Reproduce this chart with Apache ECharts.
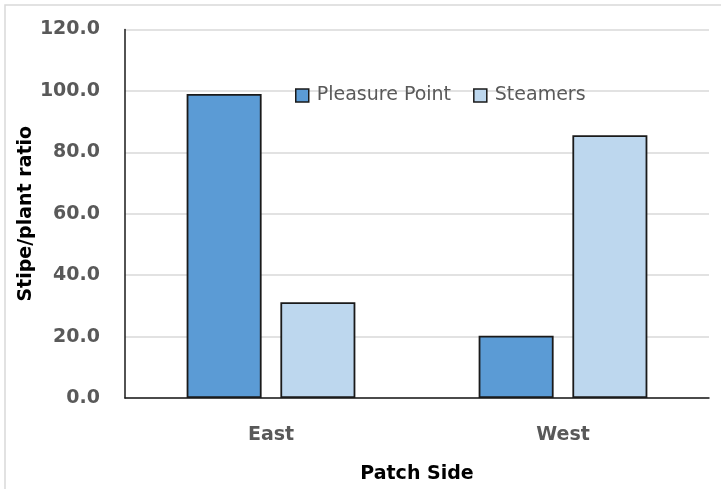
<!DOCTYPE html>
<html>
<head>
<meta charset="utf-8">
<script src="https://cdn.jsdelivr.net/npm/echarts@6/dist/echarts.min.js"></script>
<style>
  html, body { margin: 0; padding: 0; background: #fff; }
  #chart { width: 721px; height: 489px; }
</style>
</head>
<body>
<div id="chart"></div>
<script>
// Stipe-to-plant ratio by patch side at two sites
const categories = ['East', 'West'];
const pleasurePoint = [99.0, 20.3];
const steamers = [31.2, 85.6];
const yTicks = { min: 0, max: 120, interval: 20 };

const chart = echarts.init(document.getElementById('chart'), null, { renderer: 'canvas' });

const labelFont = { fontFamily: 'DejaVu Sans', fontWeight: 'bold', fontSize: 19, color: '#595959' };
const titleFont = { fontFamily: 'DejaVu Sans', fontWeight: 'bold', fontSize: 19, color: '#000' };

chart.setOption({
  backgroundColor: '#fff',
  animation: false,
  graphic: [{
    type: 'rect',
    shape: { x: 5, y: 5, width: 800, height: 600 },
    style: { fill: 'none', stroke: '#d9d9d9', lineWidth: 1.5 },
    silent: true
  }],
  grid: { left: 125, right: 12, top: 29.5, bottom: 91 },
  legend: {
    left: 290, top: 81,
    icon: 'rect',
    itemWidth: 13, itemHeight: 13,
    itemGap: 22,
    itemStyle: { borderColor: '#1a1a1a', borderWidth: 1.5 },
    textStyle: { fontFamily: 'DejaVu Sans', fontSize: 19, color: '#595959', padding: [0, 0, 0, 3] },
    data: ['Pleasure Point', 'Steamers']
  },
  xAxis: {
    type: 'category',
    data: categories,
    name: 'Patch Side',
    nameLocation: 'middle',
    nameGap: 67,
    nameTextStyle: titleFont,
    axisLine: { lineStyle: { color: '#1a1a1a', width: 1.5 } },
    axisTick: { show: false },
    axisLabel: Object.assign({ margin: 28 }, labelFont)
  },
  yAxis: {
    type: 'value',
    min: yTicks.min, max: yTicks.max, interval: yTicks.interval,
    name: 'Stipe/plant ratio',
    nameLocation: 'middle',
    nameGap: 89,
    nameMoveOverlap: false,
    nameTextStyle: titleFont,
    axisLine: { show: true, lineStyle: { color: '#1a1a1a', width: 1.5 } },
    axisTick: { show: false },
    splitLine: { lineStyle: { color: '#d9d9d9', width: 1.5 } },
    axisLabel: Object.assign({ margin: 25, formatter: v => v.toFixed(1) }, labelFont)
  },
  series: [
    {
      name: 'Pleasure Point', type: 'bar', data: pleasurePoint,
      barWidth: 75, barGap: '25%',
      itemStyle: { color: '#5b9bd5', borderColor: '#1a1a1a', borderWidth: 1.8 }
    },
    {
      name: 'Steamers', type: 'bar', data: steamers,
      barWidth: 75, barGap: '25%',
      itemStyle: { color: '#bdd7ee', borderColor: '#1a1a1a', borderWidth: 1.8 }
    }
  ]
});
</script>
</body>
</html>
